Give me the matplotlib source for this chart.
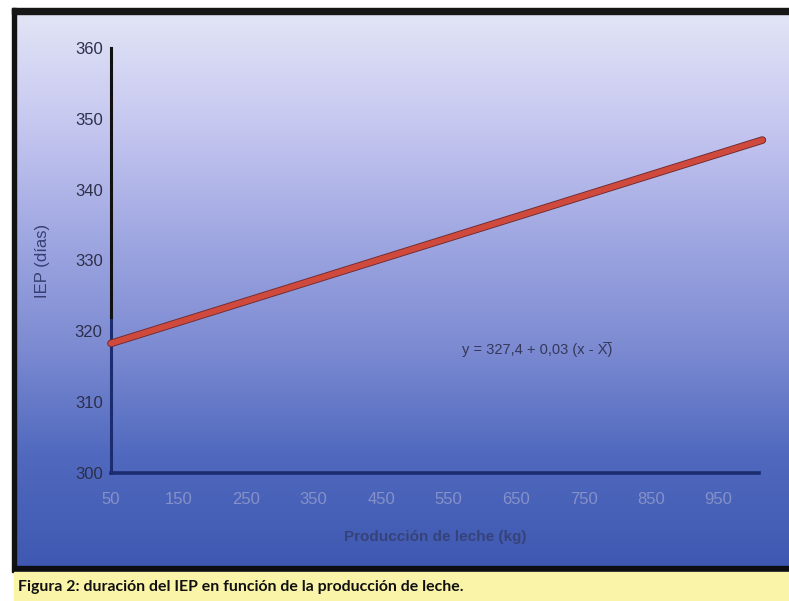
import numpy as np
import matplotlib
matplotlib.use("Agg")
import matplotlib.pyplot as plt
from matplotlib.colors import LinearSegmentedColormap
from matplotlib.patches import Rectangle
import matplotlib.patheffects as pe

# chart data
x_ticks = [50, 150, 250, 350, 450, 550, 650, 750, 850, 950]
y_ticks = [300, 310, 320, 330, 340, 350, 360]
line_x = [50, 1015]
line_y = [318.3, 347.0]
equation = "y = 327,4 + 0,03 (x - X\u0305)"
caption = "Figura 2: duración del IEP en función de la producción de leche."

W, H = 789, 601
fig = plt.figure(figsize=(W / 100, H / 100), dpi=100)
fig.patch.set_facecolor("white")


def fx(px):
    return px / W


def fy(py):
    return 1 - py / H


# gradient background panel
bg = fig.add_axes([fx(16), fy(567), fx(789) - fx(16), fy(14) - fy(567)])
grad_cmap = LinearSegmentedColormap.from_list(
    "panel", ["#e2e4f6", "#c6c7f0", "#a0a8e2", "#7d8bd2", "#5069be", "#3f59b2"])
grad = np.linspace(0, 1, 256).reshape(-1, 1)
bg.imshow(grad, aspect="auto", cmap=grad_cmap, extent=[0, 1, 0, 1], origin="upper")
bg.set_axis_off()

# frame and caption band
fig.patches.append(Rectangle((fx(12), fy(572)), fx(4), fy(8) - fy(572),
                             transform=fig.transFigure, color="#111111", zorder=1))
fig.patches.append(Rectangle((fx(12), fy(14)), 1, fy(8) - fy(14),
                             transform=fig.transFigure, color="#161616", zorder=1))
fig.patches.append(Rectangle((fx(14), fy(572)), 1, fy(566) - fy(572),
                             transform=fig.transFigure, color="#0d0d14", zorder=1))
fig.patches.append(Rectangle((fx(14), 0), 1, fy(572),
                             transform=fig.transFigure, color="#faf4a8", zorder=1))
fig.text(fx(18), fy(587), caption, fontsize=11.4, fontweight="bold",
         family="Lato", color="#111111", va="center", ha="left")

# main axes
ax = fig.add_axes([fx(111), fy(473), fx(759) - fx(111), fy(48) - fy(473)])
ax.patch.set_alpha(0)
ax.set_xlim(50, 1010)
ax.set_ylim(300, 360)

ax.plot(line_x, line_y, color="#cf4a3c", lw=4.2, solid_capstyle="round", clip_on=False,
        zorder=4, path_effects=[pe.Stroke(linewidth=5.5, foreground="#6e2a30"), pe.Normal()])

ax.text(682, 317.4, equation, fontsize=10.5, color="#34385a", ha="center", va="center",
        family="Liberation Sans")

for s in ["top", "right"]:
    ax.spines[s].set_visible(False)
# left axis: black on top, navy near the bottom
ax.spines["left"].set_color("#111111")
ax.spines["left"].set_linewidth(2.2)
ax.spines["left"].set_bounds(322, 360)
ax.axvline(50, ymin=0, ymax=(322 - 300) / 60, color="#1c2c70", lw=2.2, clip_on=False)
ax.spines["bottom"].set_color("#1c2c70")
ax.spines["bottom"].set_linewidth(2.6)

ax.set_xticks(x_ticks)
ax.set_yticks(y_ticks)
ax.tick_params(length=0, pad=6)
for lab in ax.get_yticklabels():
    lab.set_family("Liberation Sans")
    lab.set_fontsize(12)
    lab.set_color("#2c2f4a")
for lab in ax.get_xticklabels():
    lab.set_family("Liberation Sans")
    lab.set_fontsize(12)
    lab.set_color("#8591c8")
ax.tick_params(axis="x", pad=14)

ax.set_xlabel("Producción de leche (kg)", fontsize=11, fontweight="bold",
              color="#36427a", family="Liberation Sans", labelpad=16)
ax.set_ylabel("IEP (días)", fontsize=12, color="#363e72",
              family="Liberation Sans", labelpad=18)

fig.savefig("out.png", dpi=100)
